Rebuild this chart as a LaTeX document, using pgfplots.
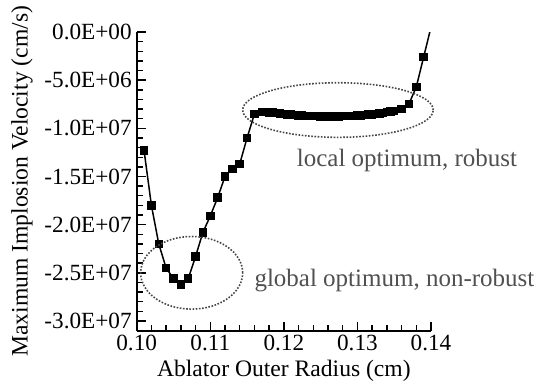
\documentclass[border=0pt]{standalone}
\usepackage{pgfplots}
\pgfplotsset{compat=1.18}
\usepackage{fontspec}
\setmainfont{Liberation Serif}
\definecolor{anngray}{RGB}{80,80,80}
\definecolor{dotgray}{RGB}{70,70,70}
\begin{document}
\begin{tikzpicture}[x=0.5pt,y=0.5pt]
\begin{axis}[
  scale only axis, width=147.15pt, height=149.3pt,
  xmin=0.10, xmax=0.14, ymin=-3.1e7, ymax=0,
  axis x line*=bottom, axis y line*=left,
  axis line style={line width=0.9pt},
  xtick={0.10,0.11,0.12,0.13,0.14},
  xticklabels={0.10,0.11,0.12,0.13,0.14},
  ytick={-3e7,-2.5e7,-2e7,-1.5e7,-1e7,-5e6,0},
  yticklabels={-3.0E+07,-2.5E+07,-2.0E+07,-1.5E+07,-1.0E+07,-5.0E+06,0.0E+00},
  minor x tick num=4, minor y tick num=4,
  tick align=inside,
  major tick length=4.5pt, minor tick length=3pt,
  every tick/.style={line width=0.7pt, black},
  tick label style={font=\fontsize{11.6}{13}\selectfont},
  xticklabel style={yshift=1.5pt},
  yticklabel style={xshift=1pt},
  xlabel={Ablator Outer Radius (cm)},
  ylabel={Maximum Implosion Velocity (cm/s)},
  xlabel style={font=\fontsize{11.8}{13}\selectfont, yshift=2pt},
  ylabel style={font=\fontsize{11.8}{13}\selectfont, yshift=-1pt},
  scaled x ticks=false, scaled y ticks=false,
  clip=true,
]
\addplot[black, line width=0.75pt, mark=square*, mark size=1.75pt, mark options={solid}] coordinates {
(0.101,-12.3e6) (0.102,-18.0e6) (0.103,-22.0e6) (0.104,-24.5e6) (0.105,-25.6e6)
(0.106,-26.2e6) (0.107,-25.6e6) (0.108,-23.3e6) (0.109,-20.8e6) (0.110,-19.1e6)
(0.111,-17.2e6) (0.112,-15.0e6) (0.113,-14.2e6) (0.114,-13.7e6) (0.115,-11.0e6)
(0.116,-8.50e6)
(0.1170,-8.30e6) (0.1175,-8.32e6) (0.1180,-8.35e6) (0.1185,-8.38e6) (0.1190,-8.42e6)
(0.1195,-8.46e6) (0.1200,-8.50e6) (0.1205,-8.54e6) (0.1210,-8.58e6) (0.1215,-8.62e6)
(0.1220,-8.65e6) (0.1225,-8.68e6) (0.1230,-8.70e6) (0.1235,-8.72e6) (0.1240,-8.73e6)
(0.1245,-8.74e6) (0.1250,-8.75e6) (0.1255,-8.75e6) (0.1260,-8.75e6) (0.1265,-8.75e6)
(0.1270,-8.75e6) (0.1275,-8.75e6) (0.1280,-8.74e6) (0.1285,-8.73e6) (0.1290,-8.72e6)
(0.1295,-8.70e6) (0.1300,-8.68e6) (0.1305,-8.65e6) (0.1310,-8.62e6) (0.1315,-8.58e6)
(0.1320,-8.54e6) (0.1325,-8.50e6) (0.1330,-8.45e6) (0.1335,-8.40e6) (0.1340,-8.33e6)
(0.1345,-8.27e6) (0.1350,-8.20e6) (0.1360,-8.00e6) (0.1370,-7.47e6) (0.1380,-5.70e6)
(0.1390,-2.60e6) (0.1400,0.50e6)
};
\coordinate (sw) at (rel axis cs:0,0);
\coordinate (e1) at (axis cs:0.10747,-25.0e6);
\coordinate (e2) at (axis cs:0.12735,-8.1e6);
\coordinate (t1) at (axis cs:0.13673,-13.3e6);
\coordinate (t2) at (axis cs:0.13503,-25.75e6);
\end{axis}
\draw[dotgray, line width=0.8pt, dash pattern=on 0.8pt off 0.8pt] (e1) ellipse [x radius=51, y radius=36.3];
\draw[dotgray, line width=0.8pt, dash pattern=on 0.8pt off 0.8pt] (e2) ellipse [x radius=95.3, y radius=27.3];
\node[anngray, font=\fontsize{12.5}{14}\selectfont, inner sep=0pt] at (t1) {local optimum, robust};
\node[anngray, font=\fontsize{12.5}{14}\selectfont, inner sep=0pt] at (t2) {global optimum, non-robust};
\pgfresetboundingbox
\useasboundingbox ([shift={(-136.7,-50.4)}]sw) rectangle ++(539,381);
\end{tikzpicture}
\end{document}
